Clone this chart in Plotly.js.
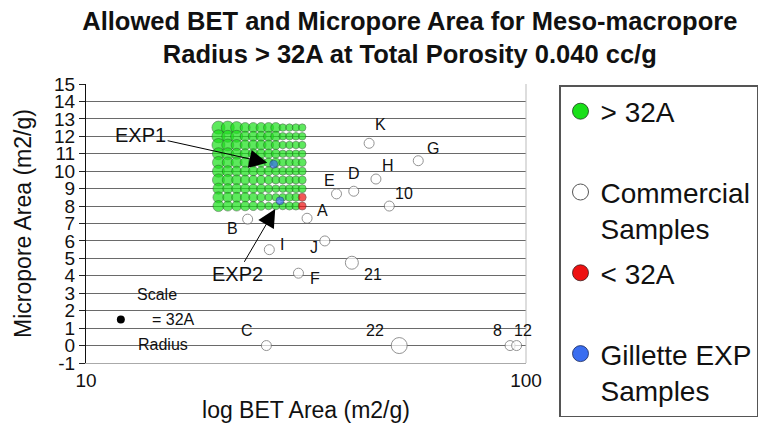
<!DOCTYPE html>
<html><head><meta charset="utf-8">
<script src="https://cdn.plot.ly/plotly-3.0.1.min.js"></script>
<style>html,body{margin:0;padding:0;background:#fff}#chart{width:766px;height:427px}</style>
</head><body><div id="chart"></div>
<script>
const FONT = 'Liberation Sans, Arial, Helvetica, sans-serif';

// ---- data ----
const gridBET = [20, 21, 22, 23, 24, 25, 26, 27, 28, 29, 30, 31];
const gridMicro = [12.5, 12, 11.5, 11, 10.5, 10, 9.5, 9, 8.5, 8];
// relative pore radius (marker diameter in px) for each allowed cell; null = shown red (< 32A)
const gridRadius = [
  [13, 13, 12, 10, 10, 10, 10, 10, 7.5, 7.5, 7.5, 7.5],
  [13, 12, 12, 10, 10, 10, 10, 10, 7.5, 7.5, 7.5, 7.5],
  [13, 12, 11, 10, 10, 10, 10, 9, 7.5, 7.5, 7.5, 7.5],
  [12, 12, 11, 10, 10, 9.5, 9.5, 9, 7.5, 7.5, 7.5, 7.5],
  [12, 11, 11, 10, 9.5, 9.5, 9, 9, 8, 8, 8, 8],
  [12, 11, 10, 10, 9.5, 9, 9, 8.5, 8, 8, 8, 8],
  [12, 11, 10, 9.5, 9, 9, 8.5, 8, 8, 8, 8, 8],
  [11, 10, 10, 9.5, 9, 9, 8, 7.5, 7.5, 8, 8, 8],
  [11, 10, 10, 9.5, 9, 8.5, 7.5, 7.5, 7.5, 8, 8, null],
  [11, 10, 10, 9.5, 9, 8.5, 7.5, 7.5, 7.5, 8, 8, null]
];
const redBET = [31, 31];
const redMicro = [8.5, 8];
const redRadius = [8, 8];

const expLabels = ['EXP1', 'EXP2'];
const expBET = [26.7, 27.6];
const expMicro = [10.4, 8.3];
const expRadius = [8, 8];

const commLabels = ['K', 'G', 'H', 'D', 'E', '10', 'A', 'B', 'I', 'J', '21', 'F', 'C', '22', '8', '12'];
const commBET = [44.0, 56.9, 45.6, 40.6, 37.1, 48.9, 31.8, 23.3, 26.1, 34.9, 40.2, 30.4, 25.7, 51.5, 92.0, 95.2];
const commMicro = [11.6, 10.6, 9.55, 8.85, 8.7, 8.0, 7.3, 7.25, 5.5, 6.0, 4.75, 4.15, 0, 0, 0, 0];
const commRadius = [10, 10, 10, 10, 10, 10, 10, 10, 10, 10, 13, 10, 10, 16, 10, 10];

const scaleBET = [12.0];
const scaleMicro = [1.5];

const yTicks = [-1, 0, 1, 2, 3, 4, 5, 6, 7, 8, 9, 10, 11, 12, 13, 14, 15];
const xTicks = [10, 100];
const minorXTicks = [20, 30, 40, 50, 60, 70, 80, 90];

// ---- style (label offsets in px) ----
const commDx = [11, 15, 12, 0, -7, 15, 15, -15, 13, -11, 21, 17, -19, -24, -13, 6];
const commDy = [-19, -12, -14, -18, -13, -13, -8, 9, -5, 7, 12, 5, -15, -15, -15, -15];

const GREEN = '#19e019', RED = '#ee1111', BLUE = '#3a6ef0';

const gx = [], gy = [], gs = [];
gridMicro.forEach((m, i) => gridBET.forEach((b, j) => {
  const r = gridRadius[i][j];
  if (r !== null) { gx.push(b); gy.push(m); gs.push(r); }
}));

const traces = [
  {x: gx, y: gy, type: 'scatter', mode: 'markers', showlegend: false,
   marker: {color: GREEN, size: gs, line: {color: '#1a3a1a', width: 0.6}}},
  {x: redBET, y: redMicro, type: 'scatter', mode: 'markers', showlegend: false,
   marker: {color: RED, size: redRadius, line: {color: '#3a1a1a', width: 0.6}}},
  {x: commBET, y: commMicro, type: 'scatter', mode: 'markers', showlegend: false, text: commLabels,
   marker: {color: '#ffffff', size: commRadius, line: {color: '#666666', width: 1}}},
  {x: expBET, y: expMicro, type: 'scatter', mode: 'markers', showlegend: false, text: expLabels,
   marker: {color: BLUE, size: expRadius, line: {color: '#1a2a5a', width: 0.6}}},
  {x: scaleBET, y: scaleMicro, type: 'scatter', mode: 'markers', showlegend: false,
   marker: {color: '#000000', size: 8}},
  // legend entries
  {x: [null], y: [null], type: 'scatter', mode: 'markers', name: '&gt; 32A<br>&nbsp;', legendgroup: 'g1',
   marker: {color: GREEN, size: 16, line: {color: '#1a3a1a', width: 0.8}}},
  {x: [null], y: [null], type: 'scatter', mode: 'markers', name: 'Commercial<br>Samples', legendgroup: 'g2',
   marker: {color: '#ffffff', size: 16, line: {color: '#555555', width: 1}}},
  {x: [null], y: [null], type: 'scatter', mode: 'markers', name: '&lt; 32A<br>&nbsp;', legendgroup: 'g3',
   marker: {color: RED, size: 16, line: {color: '#3a1a1a', width: 0.8}}},
  {x: [null], y: [null], type: 'scatter', mode: 'markers', name: 'Gillette EXP<br>Samples', legendgroup: 'g4',
   marker: {color: BLUE, size: 16, line: {color: '#1a2a5a', width: 0.8}}}
];

const annotations = commLabels.map((t, i) => ({
  x: Math.log10(commBET[i]), y: commMicro[i], xref: 'x', yref: 'y', text: t, showarrow: false,
  xshift: commDx[i], yshift: -commDy[i], font: {family: FONT, size: 16, color: '#111'}
}));
annotations.push(
  {x: Math.log10(expBET[0]), y: expMicro[0], xref: 'x', yref: 'y', text: expLabels[0],
   showarrow: true, ax: -133, ay: -29.5, axref: 'pixel', ayref: 'pixel', standoff: 6.5,
   arrowhead: 2, arrowsize: 3.6, arrowwidth: 1, arrowcolor: '#000',
   font: {family: FONT, size: 20, color: '#111'}},
  {x: Math.log10(expBET[1]), y: expMicro[1], xref: 'x', yref: 'y', text: expLabels[1],
   showarrow: true, ax: -43, ay: 73.5, axref: 'pixel', ayref: 'pixel', standoff: 9.5,
   arrowhead: 2, arrowsize: 3.6, arrowwidth: 1, arrowcolor: '#000',
   font: {family: FONT, size: 20, color: '#111'}},
  {x: Math.log10(14.5), y: 2.9, xref: 'x', yref: 'y', text: 'Scale', showarrow: false,
   font: {family: FONT, size: 16, color: '#111'}},
  {x: Math.log10(15.8), y: 1.5, xref: 'x', yref: 'y', text: '= 32A', showarrow: false,
   font: {family: FONT, size: 16, color: '#111'}},
  {x: Math.log10(14.96), y: 0.04, xref: 'x', yref: 'y', text: 'Radius', showarrow: false,
   font: {family: FONT, size: 16, color: '#111'}}
);

const layout = {
  width: 766, height: 427,
  margin: {l: 86, r: 240, t: 84, b: 64, autoexpand: false},
  paper_bgcolor: '#fff', plot_bgcolor: '#fff',
  font: {family: FONT, color: '#111'},
  title: {
    text: '<b>Allowed BET and Micropore Area for Meso-macropore<br>Radius &gt; 32A at Total Porosity 0.040 cc/g</b>',
    font: {family: FONT, size: 25.5, color: '#111'},
    xref: 'container', x: 0.535, xanchor: 'center',
    yref: 'container', y: 0.929, yanchor: 'middle'
  },
  xaxis: {
    type: 'log', range: [1, 2], tickvals: xTicks, ticktext: xTicks.map(String),
    ticks: '', showgrid: false, zeroline: false, showline: true, linecolor: '#aaaaaa', linewidth: 1,
    tickfont: {family: FONT, size: 19, color: '#111'},
    title: {text: 'log BET Area (m2/g)', font: {family: FONT, size: 23, color: '#111'}, standoff: 12}
  },
  xaxis2: {
    type: 'log', range: [1, 2], overlaying: 'x', anchor: 'free', position: 0.0625, side: 'bottom',
    tickvals: minorXTicks, ticks: 'inside', ticklen: 5, tickcolor: '#555', tickwidth: 1,
    showticklabels: false, showline: false, showgrid: false, zeroline: false, layer: 'below traces'
  },
  yaxis: {
    range: [-1, 15], tickvals: yTicks, ticktext: yTicks.map(String),
    ticks: 'outside', ticklen: 6, tickcolor: '#222', showline: true, linecolor: '#111', linewidth: 1,
    showgrid: true, gridcolor: '#6a6a6a', gridwidth: 1, zeroline: false,
    tickfont: {family: FONT, size: 19, color: '#111'},
    title: {text: 'Micropore Area (m2/g)', font: {family: FONT, size: 23, color: '#111'}, standoff: 16}
  },
  shapes: [
    {type: 'line', xref: 'paper', yref: 'paper', x0: 1, x1: 1, y0: 0, y1: 1, line: {color: '#bbbbbb', width: 1}}
  ],
  legend: {
    x: 1.075, xanchor: 'left', y: 0.9964, yanchor: 'top',
    bordercolor: '#555', borderwidth: 1.5, bgcolor: '#fff',
    font: {family: FONT, size: 28, color: '#111'},
    valign: 'top', itemsizing: 'trace', tracegroupgap: 5, maxheight: 420
  },
  annotations: annotations,
  showlegend: true
};

Plotly.newPlot('chart', traces, layout, {staticPlot: true, displayModeBar: false});
</script></body></html>
